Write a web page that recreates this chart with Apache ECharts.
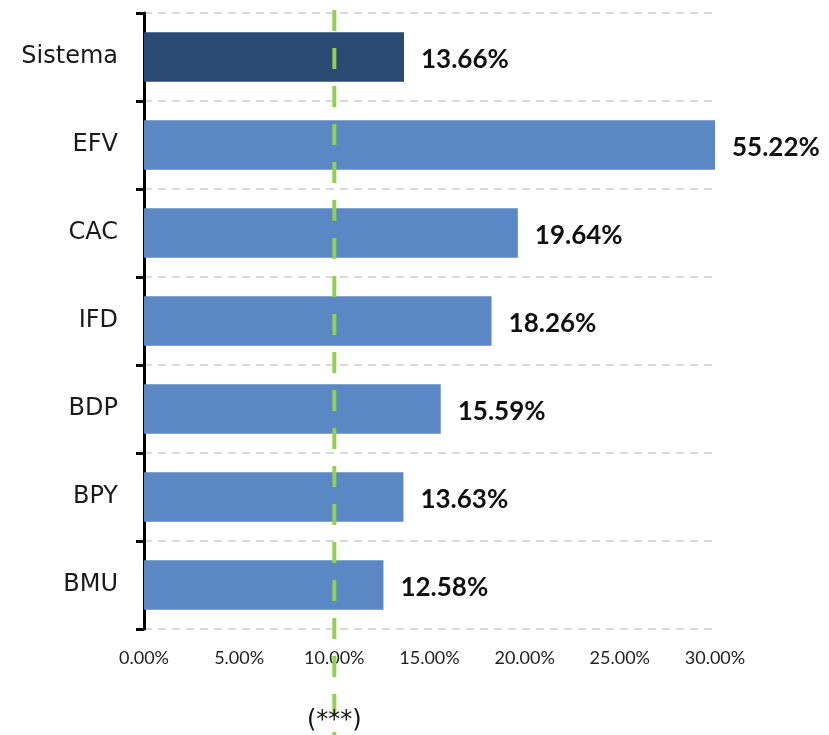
<!DOCTYPE html>
<html>
<head>
<meta charset="utf-8">
<script src="https://cdn.jsdelivr.net/npm/echarts@6/dist/echarts.min.js"></script>
<style>
html,body{margin:0;padding:0;background:#fff;}
#chart{width:829px;height:735px;}
</style>
</head>
<body>
<div id="chart"></div>
<script>
const categories = ['Sistema', 'EFV', 'CAC', 'IFD', 'BDP', 'BPY', 'BMU'];
const values = [13.66, 55.22, 19.64, 18.26, 15.59, 13.63, 12.58];
const barColors = ['#284A73', '#5B87C5', '#5B87C5', '#5B87C5', '#5B87C5', '#5B87C5', '#5B87C5'];
const xTicks = [0, 5, 10, 15, 20, 25, 30];
const referenceValue = 10;
const referenceLabel = '(***)';

const chart = echarts.init(document.getElementById('chart'), null, {renderer: 'canvas'});
const font = 'Lato, "Open Sans", sans-serif';
const wideFont = '"DejaVu Sans", sans-serif';

const option = {
  animation: false,
  backgroundColor: '#ffffff',
  grid: {left: 144, right: 114, top: 13, bottom: 106, containLabel: false},
  xAxis: {
    type: 'value',
    min: xTicks[0],
    max: xTicks[xTicks.length - 1],
    interval: 5,
    axisLine: {show: false},
    axisTick: {show: false},
    splitLine: {show: false},
    axisLabel: {
      margin: 20,
      color: '#222',
      fontFamily: font,
      fontSize: 18,
      formatter: v => v.toFixed(2) + '%'
    }
  },
  yAxis: {
    type: 'category',
    data: categories,
    inverse: true,
    axisLine: {show: true, lineStyle: {color: '#000', width: 3}},
    axisTick: {show: true, length: 8, lineStyle: {color: '#000', width: 3}},
    splitLine: {show: true, lineStyle: {color: '#d9d9d9', width: 2, type: [8, 6]}},
    axisLabel: {
      margin: 26,
      color: '#1a1a1a',
      fontFamily: wideFont,
      fontSize: 24
    }
  },
  series: [{
    type: 'bar',
    barWidth: '56%',
    data: values.map((v, i) => ({value: v, itemStyle: {color: barColors[i]}})),
    label: {
      show: true,
      position: 'right',
      distance: 17,
      offset: [0, 3],
      color: '#111',
      fontFamily: font,
      fontWeight: 'bold',
      fontSize: 26,
      formatter: p => values[p.dataIndex].toFixed(2) + '%'
    },
    z: 2
  }]
};
chart.setOption(option);

const gx = chart.convertToPixel({xAxisIndex: 0}, referenceValue);
chart.setOption({
  graphic: [
    {
      type: 'line',
      shape: {x1: gx, y1: 10, x2: gx, y2: 735},
      style: {stroke: '#92D050', lineWidth: 4, lineDash: [21, 17]},
      z: 10
    },
    {
      type: 'text',
      x: gx,
      y: 721,
      style: {
        text: referenceLabel,
        fill: '#111',
        font: '24px ' + wideFont,
        align: 'center',
        verticalAlign: 'middle'
      },
      z: 11
    }
  ]
});
</script>
</body>
</html>
